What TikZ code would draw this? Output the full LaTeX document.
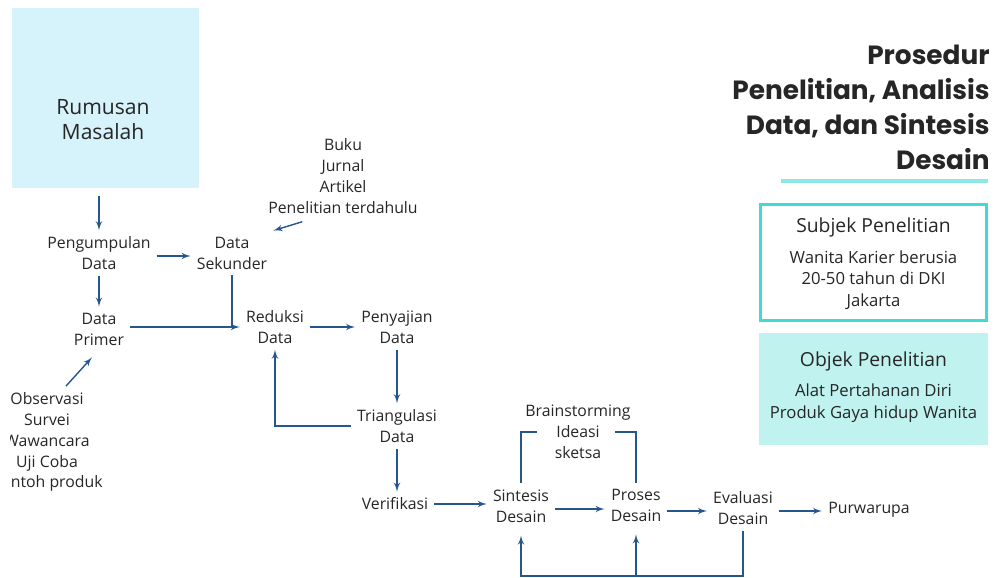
\documentclass[tikz,border=0pt]{standalone}
\usepackage{fontspec}
\setmainfont{Open Sans}
\newfontfamily\titlefont{Poppins}
\usetikzlibrary{arrows,calc}
\definecolor{flowblue}{RGB}{38,86,140}
\definecolor{txtgray}{RGB}{38,38,38}
\definecolor{rumfill}{RGB}{214,242,250}
\definecolor{tealline}{RGB}{64,218,210}
\definecolor{objfill}{RGB}{192,242,240}
\definecolor{underl}{RGB}{140,232,228}

\begin{document}
\begin{tikzpicture}[x=0.02cm,y=-0.02cm,>=latex',
  main node/.style={align=center,text=txtgray,font=\fontsize{9}{11.9}\selectfont},
  flow/.style={draw=flowblue,line width=0.8pt}]
  \useasboundingbox (0,0) rectangle (995,578);
  % left column
  \node[fill=rumfill,minimum width=3.74cm,minimum height=3.6cm] (rumusan) at (105.5,98) {};
  \node[main node,font=\fontsize{12}{14.2}\selectfont] (rumtext) at (103,120) {Rumusan\\Masalah};
  \node[main node] (pengumpulan) at (99,253)  {Pengumpulan\\Data};
  \node[main node] (sekunder)    at (232,253) {Data\\Sekunder};
  \node[main node] (sumber)      at (343,176) {Buku\\Jurnal\\Artikel\\Penelitian terdahulu};
  \node[main node] (primer)      at (99,329)  {Data\\Primer};
  \begin{scope}
    \clip (10,370) rectangle (200,500);
    \node[main node] (metode) at (47,442) {Observasi\\Survei\\Wawancara\\Uji Coba\\Contoh produk};
  \end{scope}
  % analisis data
  \node[main node] (reduksi)     at (275,327) {Reduksi\\Data};
  \node[main node] (penyajian)   at (397,327) {Penyajian\\Data};
  \node[main node] (triangulasi) at (397,426) {Triangulasi\\Data};
  \node[main node] (verifikasi)  at (395,504) {Verifikasi};
  % sintesis desain
  \node[main node] (sintesis)    at (521,506) {Sintesis\\Desain};
  \node[main node] (proses)      at (636,505) {Proses\\Desain};
  \node[main node] (evaluasi)    at (743,508) {Evaluasi\\Desain};
  \node[main node] (purwarupa)   at (869,510) {Purwarupa};
  \node[main node] (brain)       at (578,432) {Brainstorming\\Ideasi\\sketsa};
  % right column
  \node[main node,anchor=north east,align=right,font=\titlefont\bfseries\fontsize{15}{19.8}\selectfont,inner sep=0pt]
    (judul) at (990,45) {Prosedur\\Penelitian, Analisis\\Data, dan Sintesis\\Desain};
  \draw[underl,line width=0.08cm] (781,181) -- (988,181);
  \node[draw=tealline,line width=1.6pt,minimum width=4.52cm,minimum height=2.32cm] (subjek) at (873.5,262.5) {};
  \node[main node,font=\fontsize{9.5}{12.3}\selectfont] (subjektxt) at (873.5,264)
    {{\fontsize{11}{13}\selectfont Subjek Penelitian}\\[5pt]Wanita Karier berusia\\20-50 tahun di DKI\\Jakarta};
  \node[fill=objfill,minimum width=4.58cm,minimum height=2.24cm] (objek) at (873.5,389) {};
  \node[main node,font=\fontsize{9.5}{12.3}\selectfont] (objektxt) at (873.5,387)
    {{\fontsize{11}{13}\selectfont Objek Penelitian}\\[5pt]Alat Pertahanan Diri\\Produk Gaya hidup Wanita};
  % connectors
  \draw[flow,->] (rumusan.south -| pengumpulan.north) ++(0,8) -- (pengumpulan.north);
  \draw[flow,->] (pengumpulan.east) ++(0,3) -- ($(sekunder.west)+(0,3)$);
  \draw[flow,->] (pengumpulan) -- (primer);
  \draw[flow,->,shorten <=4pt] (sumber.south) ++(-34,0) -- (sekunder.north east);
  \coordinate (gabung) at (sekunder.south |- reduksi.west);
  \draw[flow] (sekunder.south) -- (gabung);
  \draw[flow,->] (primer.east |- reduksi.west) -- (reduksi.west);
  \draw[flow,->] ($(metode.north)+(19,0)$) -- ($(primer.south)+(-7,6)$);
  \draw[flow,->] (reduksi) -- (penyajian);
  \draw[flow,->] (penyajian) -- (triangulasi);
  \draw[flow,->] (triangulasi.west) -| (reduksi.south);
  \draw[flow,->] (triangulasi.south) -- (triangulasi.south |- verifikasi.north);
  \draw[flow,->] (verifikasi) -- (verifikasi -| sintesis.west);
  \draw[flow,->] (sintesis.east) ++(0,3) -- ($(sintesis.east -| proses.west)+(0,3)$);
  \draw[flow,->] (proses.east) ++(0,6) -- ($(proses.east -| evaluasi.west)+(0,6)$);
  \draw[flow,->] (evaluasi.east) ++(0,3) -- ($(evaluasi.east -| purwarupa.west)+(0,3)$);
  \draw[flow] (sintesis.north) |- ($(brain.center)+(-41,0)$);
  \draw[flow] ($(brain.center)+(37,0)$) -| (proses.north);
  \coordinate (balik) at (evaluasi.south |- 0,576);
  \draw[flow,->,shorten >=4pt] (evaluasi.south) -- (balik) -| (sintesis.south);
  \draw[flow,->,shorten >=4pt] (balik -| proses.south) -- (proses.south);
\end{tikzpicture}
\end{document}
